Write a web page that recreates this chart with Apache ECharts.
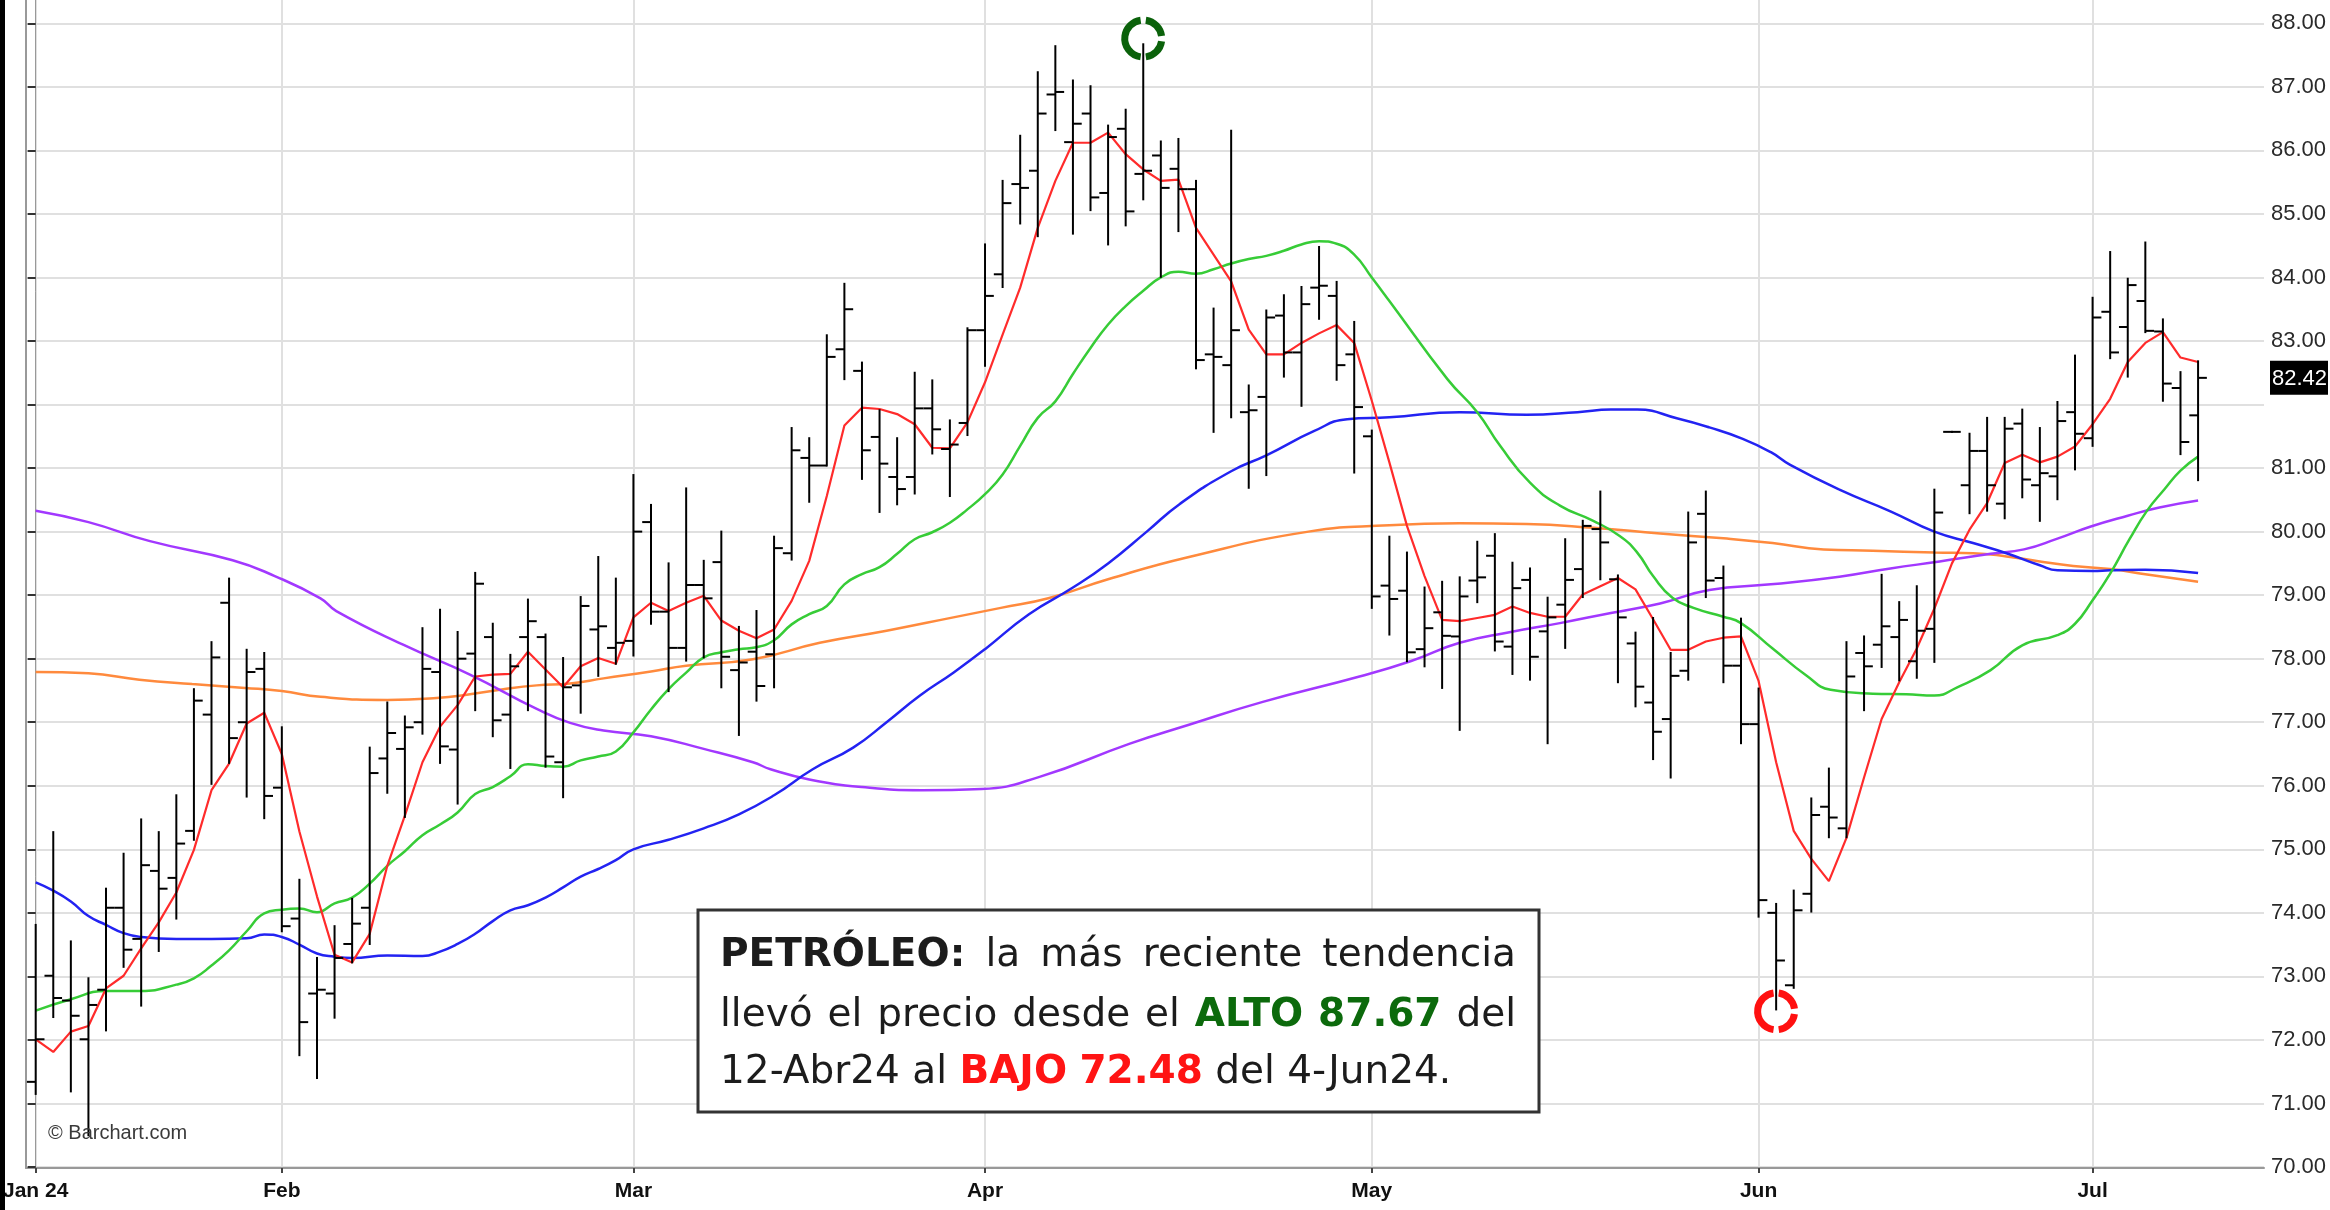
<!DOCTYPE html>
<html>
<head>
<meta charset="utf-8">
<title>Petróleo</title>
<script src="https://cdn.jsdelivr.net/npm/echarts@6/dist/echarts.min.js"></script>
<style>
  html, body { margin: 0; padding: 0; background: #fff; }
  #chart { width: 2330px; height: 1210px; }
</style>
</head>
<body>
<div id="chart"></div>
<script>
// daily bars, Jan 11 2024 .. Jul 10 2024 (index = trading day)
const MONTH_IDX = [0, 14, 34, 54, 76, 98, 117];
const MONTH_LABELS = ['Jan 24', 'Feb', 'Mar', 'Apr', 'May', 'Jun', 'Jul'];
const Y_TICKS = [70, 71, 72, 73, 74, 75, 76, 77, 78, 79, 80, 81, 82, 83, 84, 85, 86, 87, 88];
const Y_LABELS = [70, 71, 72, 73, 74, 75, 76, 77, 78, 79, 80, 81, 83, 84, 85, 86, 87, 88];

const OPEN = [
  71.34, 73.01, 72.62, 72.01, 72.79, 74.08, 73.59, 74.66, 74.55, 75.29, 77.12, 78.88, 77.00, 77.84,
  75.97, 73.91, 72.73, 72.73, 73.51, 74.08, 76.43, 76.58, 77.00, 77.79, 76.57, 78.08, 78.34, 77.12, 78.34, 78.34, 76.37, 77.58, 78.46, 78.17,
  78.28, 80.15, 78.74, 78.17, 79.16, 79.52, 77.82, 78.11, 78.07, 79.66, 81.16, 81.04, 82.87, 82.53, 81.49, 80.86, 80.86, 81.94, 81.30, 81.71,
  83.17, 84.05, 85.47, 85.68, 86.88, 86.13, 86.58, 85.33, 86.34, 85.63, 85.92, 85.71, 85.39, 82.79, 82.62, 81.88, 82.12, 83.40, 82.82, 83.84, 83.71, 82.79,
  81.50, 79.15, 79.07, 78.15, 78.73, 78.35, 79.23, 79.62, 78.19, 79.24, 78.43, 78.85, 79.41, 80.04, 79.25, 78.24, 77.31, 77.05, 77.81, 80.28, 79.27, 77.89,
  76.97, 74.00, 72.86, 74.30, 75.67, 75.33, 78.09, 78.22, 78.34, 77.96, 78.47, 81.57, 80.73, 81.27, 80.44, 81.70, 80.73, 80.87, 81.88,
  81.47, 83.46, 83.22, 83.63, 83.15, 82.26, 81.83,
];
const HIGH = [
  73.81, 75.27, 73.55, 72.97, 74.38, 74.93, 75.47, 75.27, 75.85, 77.52, 78.26, 79.26, 78.14, 78.09,
  76.92, 74.52, 73.29, 73.79, 74.22, 76.60, 77.31, 77.09, 78.48, 78.77, 78.42, 79.35, 78.55, 78.06, 78.93, 78.38, 78.01, 78.97, 79.60, 79.26,
  80.89, 80.42, 79.50, 80.68, 79.54, 80.00, 78.50, 78.75, 79.92, 81.63, 81.47, 83.09, 83.90, 82.66, 81.91, 81.47, 82.50, 82.38, 81.75, 83.20,
  84.52, 85.52, 86.23, 87.23, 87.64, 87.10, 87.01, 86.39, 86.64, 87.67, 86.14, 86.18, 85.52, 83.51, 86.31, 82.30, 83.48, 83.72, 83.85, 84.48, 83.93, 83.30,
  81.59, 79.92, 79.67, 79.12, 79.21, 79.28, 79.84, 79.96, 79.51, 79.42, 78.96, 79.88, 80.17, 80.63, 79.31, 78.41, 78.64, 78.09, 80.30, 80.63, 79.45, 78.63,
  77.53, 74.14, 74.35, 75.80, 76.27, 78.26, 78.35, 79.32, 78.89, 79.14, 80.66, 81.57, 81.54, 81.79, 81.79, 81.92, 81.63, 82.04, 82.77,
  83.68, 84.40, 83.98, 84.55, 83.34, 82.51, 82.68,
];
const LOW = [
  71.15, 72.36, 71.19, 70.50, 72.15, 73.15, 72.54, 73.40, 73.91, 75.15, 76.03, 76.36, 75.83, 75.49,
  73.71, 71.76, 71.40, 72.35, 73.22, 73.51, 75.89, 75.51, 76.82, 76.36, 75.72, 77.19, 76.78, 76.28, 77.19, 76.30, 75.82, 77.15, 77.73, 77.92,
  78.05, 78.55, 77.49, 77.97, 78.02, 77.55, 76.80, 77.34, 77.55, 79.56, 80.47, 81.04, 82.40, 80.83, 80.31, 80.43, 80.60, 81.23, 80.56, 81.52,
  82.61, 83.85, 84.85, 84.65, 86.32, 84.69, 85.06, 84.52, 84.82, 85.23, 84.01, 84.73, 82.57, 81.57, 81.80, 80.69, 80.89, 82.44, 81.98, 83.35, 82.39, 80.93,
  78.80, 78.38, 77.96, 77.88, 77.54, 76.88, 78.89, 78.13, 77.76, 77.67, 76.67, 78.17, 78.97, 79.25, 77.63, 77.25, 76.42, 76.13, 77.67, 78.97, 77.63, 76.67,
  73.94, 72.48, 72.82, 74.02, 75.19, 75.19, 77.19, 77.87, 77.66, 77.70, 77.95, 81.57, 80.29, 80.33, 80.21, 80.54, 80.17, 80.51, 80.98,
  81.35, 82.73, 82.44, 83.14, 82.06, 81.22, 80.81,
];
const CLOSE = [
  72.01, 72.66, 72.38, 72.55, 74.08, 73.42, 74.75, 74.38, 75.09, 77.34, 78.02, 76.75, 77.79, 75.84,
  73.79, 72.28, 72.79, 73.29, 73.83, 76.20, 76.83, 76.92, 77.84, 76.62, 78.00, 79.18, 77.03, 77.88, 78.59, 76.46, 77.55, 78.83, 78.51, 78.25,
  80.00, 78.74, 78.17, 79.16, 78.95, 78.03, 77.94, 77.57, 79.74, 81.28, 81.04, 82.75, 83.50, 81.28, 81.07, 80.67, 81.94, 81.61, 81.37, 83.17,
  83.71, 85.17, 85.41, 86.58, 86.92, 86.42, 85.26, 86.21, 85.04, 85.68, 85.41, 85.39, 82.70, 82.75, 83.17, 81.91, 83.37, 82.82, 83.58, 83.87, 82.62, 81.96,
  78.98, 78.94, 78.10, 78.48, 78.36, 78.98, 79.28, 78.27, 79.11, 78.03, 78.65, 79.24, 80.09, 79.83, 78.65, 77.56, 76.85, 77.73, 79.83, 79.23, 77.89, 76.97,
  74.20, 73.25, 74.04, 75.54, 75.50, 77.72, 77.88, 78.51, 78.61, 78.44, 80.30, 81.57, 81.27, 80.73, 81.62, 80.82, 80.92, 81.74, 81.54,
  83.37, 82.82, 83.88, 83.16, 82.33, 81.41, 82.42,
];

// moving averages
const MA_RED = [
  72.01, 71.81, 72.13, 72.22, 72.81, 73.01, 73.44, 73.85, 74.32, 74.99, 75.93, 76.35, 76.98, 77.15,
  76.50, 75.28, 74.26, 73.34, 73.22, 73.67, 74.74, 75.53, 76.37, 76.93, 77.27, 77.72, 77.75, 77.76, 78.11, 77.83, 77.55, 77.88, 78.01, 77.92,
  78.65, 78.88, 78.75, 78.88, 78.99, 78.60, 78.44, 78.32, 78.46, 78.91, 79.54, 80.56, 81.67, 81.95, 81.93, 81.85, 81.69, 81.32, 81.31, 81.72,
  82.35, 83.10, 83.84, 84.78, 85.52, 86.12, 86.12, 86.28, 85.94, 85.70, 85.52, 85.54, 84.78, 84.36, 83.94, 83.18, 82.79, 82.79, 82.97, 83.12, 83.25, 82.97,
  82.06, 81.09, 80.09, 79.30, 78.61, 78.59, 78.64, 78.69, 78.82, 78.72, 78.66, 78.66, 79.01, 79.14, 79.27, 79.09, 78.62, 78.14, 78.14, 78.27, 78.33, 78.35,
  77.65, 76.37, 75.29, 74.85, 74.50, 75.18, 76.13, 77.05, 77.63, 78.16, 78.79, 79.50, 80.03, 80.45, 81.08, 81.21, 81.09, 81.18, 81.34,
  81.69, 82.09, 82.67, 82.97, 83.14, 82.74, 82.67,
];
const MA_GREEN = [
  [0, 72.46], [2, 72.64], [4, 72.77], [6, 72.77], [8, 72.87], [9, 72.97], [10, 73.17], [11, 73.41], [12, 73.71], [13, 73.99],
  [14, 74.05], [15, 74.07], [16, 74.01], [17, 74.15], [18, 74.24], [19, 74.46], [20, 74.74], [21, 74.97], [22, 75.22], [23, 75.39],
  [24, 75.58], [25, 75.87], [26, 75.98], [27, 76.15], [28, 76.34], [29, 76.31], [30, 76.30], [31, 76.40], [32, 76.46], [33, 76.54],
  [34, 76.84], [35, 77.20], [36, 77.52], [37, 77.78], [38, 78.02], [39, 78.10], [40, 78.15], [41, 78.18], [42, 78.29], [43, 78.54],
  [44, 78.70], [45, 78.83], [46, 79.17], [47, 79.33], [48, 79.44], [49, 79.65], [50, 79.88], [51, 79.99], [52, 80.14], [53, 80.35],
  [54, 80.59], [55, 80.90], [56, 81.35], [57, 81.79], [58, 82.05], [59, 82.48], [60, 82.89], [61, 83.26], [62, 83.55], [63, 83.79],
  [64, 84.00], [65, 84.09], [66, 84.06], [67, 84.13], [68, 84.22], [69, 84.29], [70, 84.34], [71, 84.42], [72, 84.52], [73, 84.57],
  [74, 84.53], [75, 84.36], [76, 84.00], [77, 83.63], [80.3, 82.40], [82, 81.88], [83.3, 81.35], [85, 80.77], [86.7, 80.41],
  [88.6, 80.17], [90.1, 79.93], [91.1, 79.67], [92, 79.30], [93.1, 78.96], [94.3, 78.80], [96, 78.66], [97, 78.56], [98.8, 78.16],
  [100.7, 77.74], [102.1, 77.51], [104.5, 77.45], [106.4, 77.44], [108, 77.42], [109.3, 77.55], [111.2, 77.82], [113, 78.21],
  [115, 78.37], [116, 78.55], [117, 78.92], [118, 79.34], [119.1, 79.88], [120.1, 80.33], [121.1, 80.67], [122, 80.96], [123, 81.18],
];
const MA_BLUE = [
  [0, 74.48], [1, 74.35], [2, 74.18], [3, 73.95], [4, 73.81], [5, 73.68], [6, 73.62], [8, 73.59], [10, 73.59], [12, 73.60],
  [13, 73.66], [14, 73.62], [15, 73.50], [16, 73.36], [17, 73.31], [18, 73.29], [20, 73.33], [22, 73.32], [23, 73.39], [24, 73.51],
  [25, 73.67], [26, 73.87], [27, 74.04], [28, 74.12], [29, 74.24], [30, 74.40], [31, 74.57], [32, 74.69], [33, 74.83], [34, 75.00],
  [36, 75.15], [38, 75.33], [40, 75.55], [42, 75.85], [44.2, 76.26], [46.5, 76.60], [48.4, 77.00], [50.3, 77.42], [52.2, 77.78],
  [54, 78.15], [56.5, 78.70], [59, 79.12], [61, 79.50], [63.2, 80.00], [65.1, 80.44], [68, 80.95], [70, 81.20], [72.7, 81.58],
  [74.6, 81.77], [77, 81.80], [81, 81.88], [84.8, 81.84], [87.7, 81.88], [89.6, 81.92], [91.1, 81.92], [93.4, 81.78], [95.2, 81.64],
  [97.1, 81.46], [98.7, 81.25], [99.8, 81.05], [102.6, 80.66], [105.5, 80.32], [108, 80.00], [110.2, 79.82], [112.1, 79.66],
  [114, 79.47], [115, 79.39], [117, 79.38], [118, 79.39], [120, 79.40], [123, 79.35],
];
const MA_ORANGE = [
  [0, 77.79], [3, 77.77], [5.9, 77.67], [8.9, 77.60], [11.9, 77.54], [14, 77.49], [16.2, 77.40], [20, 77.35], [22.8, 77.38],
  [24.7, 77.44], [26.6, 77.52], [28.5, 77.58], [30.4, 77.61], [32.3, 77.69], [35, 77.80], [37, 77.89], [40.8, 77.99], [44.6, 78.25],
  [48.4, 78.44], [52.2, 78.65], [54.9, 78.80], [57.6, 78.95], [61, 79.25], [65.6, 79.60], [72.4, 80.00], [77, 80.10], [81, 80.13],
  [84.8, 80.12], [88.6, 80.06], [92.4, 79.97], [96.2, 79.89], [98.8, 79.82], [101.7, 79.72], [104.5, 79.70], [108, 79.67],
  [110.2, 79.66], [112.1, 79.61], [114, 79.53], [115.9, 79.46], [118, 79.41], [120, 79.33], [123, 79.21],
];
const MA_PURPLE = [
  [0, 80.33], [3, 80.15], [6.5, 79.85], [11.2, 79.55], [13.6, 79.30], [16.2, 78.95], [17.1, 78.75], [20.9, 78.22], [24.7, 77.75],
  [28.5, 77.21], [30.4, 76.99], [32.3, 76.87], [35, 76.78], [38, 76.58], [40.8, 76.37], [41.8, 76.26], [44, 76.10], [47, 75.98],
  [50.4, 75.93], [53.8, 75.95], [57.1, 76.14], [62.2, 76.66], [65.6, 76.96], [69.8, 77.32], [75.3, 77.72], [78.2, 77.96],
  [81, 78.25], [83.9, 78.42], [86.7, 78.56], [89.6, 78.72], [92.4, 78.87], [95.2, 79.08], [98.7, 79.17], [102.6, 79.29],
  [105.5, 79.42], [108.3, 79.53], [111.2, 79.65], [113.1, 79.72], [115, 79.89], [116.9, 80.08], [119, 80.25], [120.8, 80.38], [123, 80.49],
];

// high / low markers
const RINGS = [[63, 87.76], [99, 72.45]];
const RING_COLORS = ['#0b620b', '#ff1010'];
const LAST_PRICE = 82.42;

const GREEN_TXT = '#0c6a0c';
const RED_TXT = '#ff1414';
const NOTE_LINES = [
  { justify: true, words: [['PETRÓLEO:', 'bold', '#1c1c1c'], ['la'], ['más'], ['reciente'], ['tendencia']] },
  { justify: true, words: [['llevó'], ['el'], ['precio'], ['desde'], ['el'], ['ALTO', 'bold', GREEN_TXT], ['87.67', 'bold', GREEN_TXT], ['del']] },
  { justify: false, words: [['12-Abr24'], ['al'], ['BAJO', 'bold', RED_TXT], ['72.48', 'bold', RED_TXT], ['del'], ['4-Jun24.']] },
];

const AXIS_FONT = '"Liberation Sans", Arial, sans-serif';
const NOTE_FAMILY = '"DejaVu Sans", sans-serif';
const NOTE_SIZE = 39;

const ohlcData = OPEN.map((o, i) => [i, o, HIGH[i], LOW[i], CLOSE[i]]);
const redData = MA_RED.map((v, i) => [i, v]);

function renderBar(params, api) {
  const x = api.value(0);
  const o = api.coord([x, api.value(1)]);
  const h = api.coord([x, api.value(2)]);
  const l = api.coord([x, api.value(3)]);
  const c = api.coord([x, api.value(4)]);
  const half = api.size([1, 0])[0] * 0.5;
  const style = { stroke: '#000', lineWidth: 2 };
  return {
    type: 'group',
    children: [
      { type: 'line', shape: { x1: h[0], y1: h[1] - 1, x2: l[0], y2: l[1] + 1 }, style },
      { type: 'line', shape: { x1: o[0] - half, y1: o[1], x2: o[0], y2: o[1] }, style },
      { type: 'line', shape: { x1: c[0], y1: c[1], x2: c[0] + half, y2: c[1] }, style },
    ],
  };
}

function renderRing(params, api) {
  const p = api.coord([api.value(0), api.value(1)]);
  const color = RING_COLORS[params.dataIndex];
  const segs = [[-82, -8], [8, 82], [98, 262]];
  return {
    type: 'group',
    children: segs.map(([a, b]) => ({
      type: 'arc',
      shape: { cx: p[0], cy: p[1], r: 18.5, startAngle: a * Math.PI / 180, endAngle: b * Math.PI / 180, clockwise: true },
      style: { stroke: color, lineWidth: 7, fill: null },
    })),
  };
}

function renderTag(params, api) {
  const p = api.coord([api.value(0), api.value(1)]);
  const x0 = params.coordSys.x + params.coordSys.width + 6;
  return {
    type: 'group',
    children: [
      { type: 'rect', shape: { x: x0, y: p[1] - 17, width: 58, height: 34 }, style: { fill: '#000' } },
      {
        type: 'text', x: x0 + 2, y: p[1] + 1,
        style: { text: api.value(1).toFixed(2), fill: '#fff', font: `22px ${AXIS_FONT}`, align: 'left', verticalAlign: 'middle', textAlign: 'left', textVerticalAlign: 'middle' },
      },
    ],
  };
}

function maSeries(name, data, color, smooth, width) {
  return { name, type: 'line', data, smooth, symbol: 'none', silent: true, z: 2, lineStyle: { color, width } };
}

// annotation: justified lines, words placed one by one
function noteGraphic() {
  const box = { x: 698, y: 910, w: 841, h: 202 };
  const left = 720, right = 1516;
  const centers = [956, 1016, 1073];
  const ctx = document.createElement('canvas').getContext('2d');
  const fontOf = (w) => `${w || 'normal'} ${NOTE_SIZE}px ${NOTE_FAMILY}`;
  ctx.font = fontOf('normal');
  const spaceW = ctx.measureText(' ').width;
  const els = [{
    type: 'rect', shape: { x: box.x, y: box.y, width: box.w, height: box.h },
    style: { fill: '#fff', stroke: '#333', lineWidth: 3 }, z: 10,
  }];
  NOTE_LINES.forEach((line, li) => {
    const widths = line.words.map(([t, w]) => { ctx.font = fontOf(w); return ctx.measureText(t).width; });
    const total = widths.reduce((a, b) => a + b, 0);
    const gap = line.justify ? (right - left - total) / (line.words.length - 1) : spaceW;
    let x = left;
    line.words.forEach(([t, w, color], wi) => {
      els.push({
        type: 'text', x, y: centers[li], z: 11,
        style: { text: t, font: fontOf(w), fill: color || '#1c1c1c', align: 'left', verticalAlign: 'middle', textAlign: 'left', textVerticalAlign: 'middle' },
      });
      x += widths[wi] + gap;
    });
  });
  return els;
}

const chart = echarts.init(document.getElementById('chart'), null, { renderer: 'canvas' });
chart.setOption({
  animation: false,
  backgroundColor: '#fff',
  grid: { left: 26, right: 66, top: 0, bottom: 42, containLabel: false },
  xAxis: {
    type: 'value', min: -0.55, max: 126.75,
    axisLine: { show: true, onZero: false, lineStyle: { color: '#999', width: 2 } },
    axisTick: { show: true, customValues: MONTH_IDX, length: 5, lineStyle: { color: '#444', width: 2 } },
    axisLabel: {
      customValues: MONTH_IDX, margin: 13, color: '#111', fontFamily: AXIS_FONT, fontWeight: 'bold', fontSize: 21,
      formatter: (v) => MONTH_LABELS[MONTH_IDX.indexOf(v)] || '',
    },
    splitLine: { show: true, lineStyle: { color: '#e0e0e0', width: 2 } },
  },
  yAxis: [
    {
      type: 'value', position: 'right', min: 69.984, max: 88.367,
      axisLine: { show: true, lineStyle: { color: '#999', width: 1 } },
      axisTick: { show: true, inside: true, length: 8, customValues: Y_TICKS, lineStyle: { color: '#333', width: 2 } },
      axisLabel: { customValues: Y_LABELS, margin: 7, color: '#2a2a2a', fontFamily: AXIS_FONT, fontSize: 22, formatter: (v) => v.toFixed(2) },
      splitLine: { show: true, lineStyle: { color: '#e0e0e0', width: 2 } },
    },
    {
      type: 'value', position: 'left', min: 69.984, max: 88.367,
      axisLine: { show: true, lineStyle: { color: '#999', width: 2 } },
      axisTick: { show: false }, axisLabel: { show: false }, splitLine: { show: false },
    },
  ],
  series: [
    maSeries('MA 200', MA_ORANGE, '#ff8a3d', true, 2.5),
    maSeries('MA 100', MA_PURPLE, '#a238ff', true, 2.5),
    maSeries('MA 50', MA_BLUE, '#2323f2', true, 2.5),
    maSeries('MA 20', MA_GREEN, '#37cc37', true, 2.5),
    maSeries('MA 5', redData, '#ff2b2b', false, 2.2),
    { name: 'OHLC', type: 'custom', renderItem: renderBar, data: ohlcData, z: 5, silent: true },
    { name: 'rings', type: 'custom', renderItem: renderRing, data: RINGS, z: 6, silent: true },
    { name: 'last', type: 'custom', renderItem: renderTag, data: [[CLOSE.length - 1, LAST_PRICE]], z: 6, silent: true },
  ],
  graphic: [
    { type: 'rect', shape: { x: 0, y: 0, width: 5, height: 1210 }, style: { fill: '#000' }, z: 20 },
    {
      type: 'text', x: 48, y: 1133, z: 12,
      style: { text: '© Barchart.com', font: `20px ${AXIS_FONT}`, fill: '#3a3a3a', align: 'left', verticalAlign: 'middle', textAlign: 'left', textVerticalAlign: 'middle' },
    },
    ...noteGraphic(),
  ],
});
</script>
</body>
</html>
